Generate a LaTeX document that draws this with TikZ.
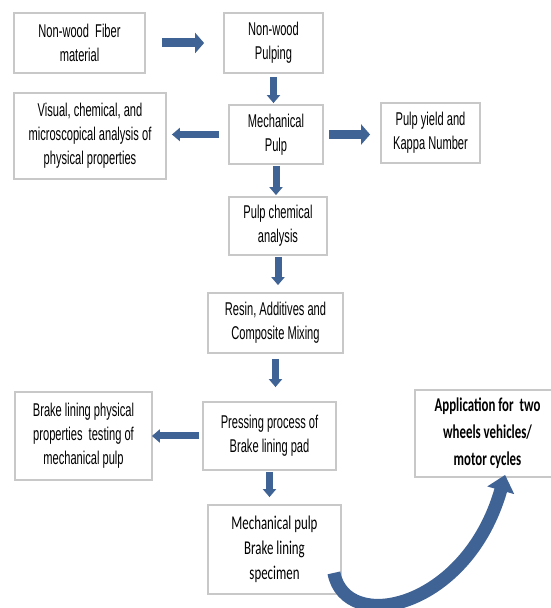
\documentclass[tikz,border=0pt]{standalone}
\usepackage{fontspec}
\newfontfamily\narrowfont{Liberation Sans}[FakeStretch=0.6]
\newfontfamily\calibrifont{Carlito}[FakeStretch=0.66]
\usetikzlibrary{arrows.meta}
\definecolor{arrowblue}{RGB}{64,99,150}
\definecolor{boxgray}{RGB}{200,200,200}

\begin{document}
\begin{tikzpicture}[x=1pt, y=1pt,
    box/.style={draw=boxgray, line width=1.8pt, align=center, inner sep=0pt,
        font=\narrowfont\fontsize{18.5}{24}\selectfont},
    calbox/.style={box, font=\calibrifont\fontsize{19.5}{25}\selectfont},
    wide arrow/.style={draw=arrowblue, line width=9pt, -{Triangle[width=20pt, length=9pt]}},
    slim arrow/.style={draw=arrowblue, line width=7pt, -{Triangle[width=13pt, length=8pt]}},
    bend arrow/.style={draw=arrowblue, line width=13pt, -{Triangle[width=27pt, length=16pt]}}]
        \useasboundingbox (0,0) rectangle (551,608);

        \node[box, minimum width=131pt, minimum height=60pt] (fiber) at (79.5,565) {Non-wood\ \ Fiber\\material};
        \node[box, minimum width=99pt, minimum height=60pt] (nwpulp) at (273.5,565) {Non-wood\\Pulping};
        \node[box, minimum width=152pt, minimum height=86pt] (visual) at (90,472) {Visual, chemical, and\\microscopical analysis of\\physical properties};
        \node[box, minimum width=94pt, minimum height=59pt] (mech) at (276,473.5) {Mechanical\\Pulp};
        \node[box, minimum width=99pt, minimum height=60pt] (yield) at (430.5,475) {Pulp yield and\\Kappa Number};
        \node[box, minimum width=98pt, minimum height=58pt] (chem) at (278,382) {Pulp chemical\\analysis};
        \node[box, minimum width=135pt, minimum height=60pt] (resin) at (275.5,285) {Resin, Additives and\\Composite Mixing};
        \node[box, minimum width=137pt, minimum height=88pt] (brake) at (83.5,172) {Brake lining physical\\properties\ \ testing of\\mechanical pulp};
        \node[box, minimum width=133pt, minimum height=68pt] (press) at (269.5,172) {Pressing process of\\Brake lining pad};
        \node[calbox, minimum width=133pt, minimum height=89pt] (spec) at (274.5,58.5) {Mechanical pulp\\Brake lining\\specimen};
        \node[calbox, font=\calibrifont\bfseries\fontsize{19.5}{27}\selectfont, minimum width=145pt, minimum height=87pt] (app) at (487.5,174.5) {Application for\ \ two\\wheels vehicles/\\motor cycles};

        \coordinate (curvetail) at ([xshift=-8pt, yshift=22pt]spec.south east);
        \coordinate (curvetip) at ([xshift=91pt, yshift=3pt]app.south west);

        \draw[wide arrow, shorten <=16pt, shorten >=19pt] (fiber.east) -- (fiber.east -| nwpulp.west);
        \draw[slim arrow, shorten <=3pt, shorten >=1pt] (nwpulp.south) -- (nwpulp.south |- mech.north);
        \draw[slim arrow, shorten <=9pt, shorten >=5pt] (mech.west) -- (mech.west -| visual.east);
        \draw[wide arrow, shorten <=5pt, shorten >=10pt] (mech.east) -- (mech.east -| yield.west);
        \draw[slim arrow, shorten <=1pt, shorten >=1pt] (mech.south) -- (mech.south |- chem.north);
        \draw[slim arrow, shorten <=1pt, shorten >=7pt] (chem.south) -- (chem.south |- resin.north);
        \draw[slim arrow, shorten <=5pt, shorten >=14pt] (resin.south) -- (resin.south |- press.north);
        \draw[slim arrow, shorten <=3pt, shorten >=-1pt] (press.west) -- (press.west -| brake.east);
        \draw[slim arrow, shorten <=1pt, shorten >=7pt] (press.south) -- (press.south |- spec.north);
        \draw[bend arrow] (curvetail) .. controls +(12,-62) and +(-38,-134) .. (curvetip);
\end{tikzpicture}
\end{document}
